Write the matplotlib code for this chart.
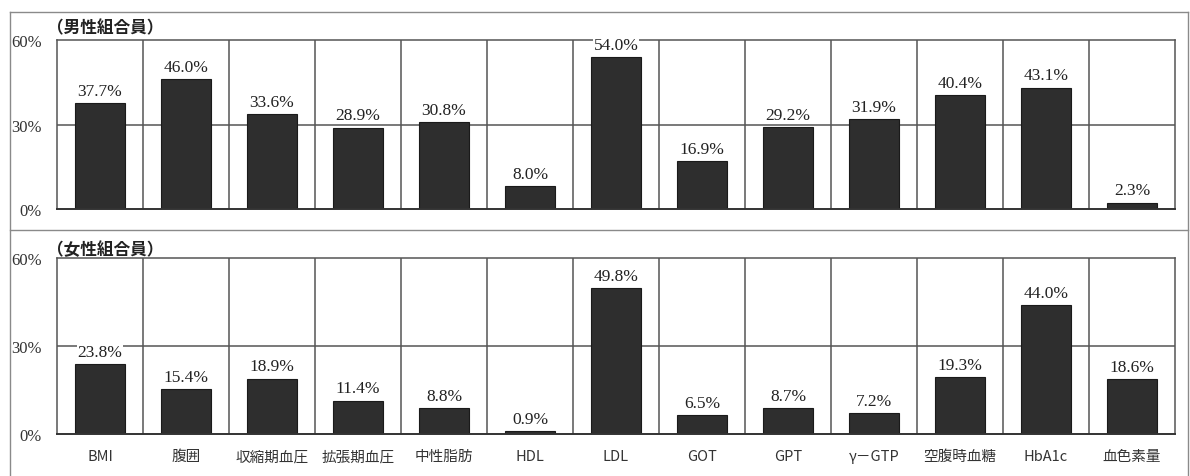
import matplotlib
matplotlib.use("Agg")
import matplotlib.pyplot as plt
from matplotlib.lines import Line2D

categories = ["BMI", "腹囲", "収縮期血圧", "拡張期血圧", "中性脂肪", "HDL", "LDL",
              "GOT", "GPT", "γ－GTP", "空腹時血糖", "HbA1c", "血色素量"]
male = [37.7, 46.0, 33.6, 28.9, 30.8, 8.0, 54.0, 16.9, 29.2, 31.9, 40.4, 43.1, 2.3]
female = [23.8, 15.4, 18.9, 11.4, 8.8, 0.9, 49.8, 6.5, 8.7, 7.2, 19.3, 44.0, 18.6]
panel_titles = ["（男性組合員）", "（女性組合員）"]
yticks = [0, 30, 60]

W, H = 1190, 477
fig = plt.figure(figsize=(W / 100, H / 100), dpi=100)
fig.patch.set_facecolor("white")

num_font = ["Liberation Serif", "DejaVu Serif"]
cjk_font = ["Noto Sans CJK JP", "DejaVu Sans"]


def fy(py):
    return 1 - py / H


def fx(px):
    return px / W


# outer frame and divider
frame_kw = dict(color="#8a8a8a", lw=1.0, transform=fig.transFigure)
fig.add_artist(Line2D([fx(10), fx(1188)], [fy(13), fy(13)], **frame_kw))
fig.add_artist(Line2D([fx(10), fx(10)], [fy(13), fy(477)], **frame_kw))
fig.add_artist(Line2D([fx(1188), fx(1188)], [fy(13), fy(477)], **frame_kw))
fig.add_artist(Line2D([fx(10), fx(1188)], [fy(231), fy(231)], **frame_kw))

panels = [
    (male, panel_titles[0], 41, 210, 28, False),
    (female, panel_titles[1], 259, 435, 250, True),
]

n = len(categories)
x = list(range(n))
grid_color = "#555555"

for values, title, top_px, bot_px, title_py, show_labels in panels:
    ax = fig.add_axes([fx(57), fy(bot_px), fx(1175) - fx(57), fy(top_px) - fy(bot_px)])
    ax.set_xlim(-0.5, n - 0.5)
    ax.set_ylim(0, 60)
    ax.bar(x, values, width=0.58, color="#2e2e2e", edgecolor="#1a1a1a",
           linewidth=0.8, zorder=3)
    # category separators and horizontal grid
    for b in range(1, n):
        ax.axvline(b - 0.5, color=grid_color, lw=1.1, zorder=1)
    ax.axhline(30, color=grid_color, lw=1.1, zorder=1)
    for side in ["top", "left", "right"]:
        ax.spines[side].set_color(grid_color)
        ax.spines[side].set_linewidth(1.1)
    ax.spines["bottom"].set_color("#333333")
    ax.spines["bottom"].set_linewidth(1.4)
    ax.spines["bottom"].set_zorder(4)

    for xi, v in zip(x, values):
        ax.annotate(f"{v:.1f}%", (xi, v), xytext=(0, 3), textcoords="offset points",
                    ha="center", va="bottom", fontsize=12.5, family=num_font,
                    color="#222222", zorder=5,
                    bbox=dict(boxstyle="square,pad=0.05", fc="white", ec="none"))

    ax.set_yticks(yticks)
    ax.set_yticklabels([f"{t}%" for t in yticks], family=num_font, fontsize=12,
                       color="#333333")
    ax.tick_params(axis="y", length=0, pad=11)
    if show_labels:
        ax.set_xticks(x)
        ax.set_xticklabels(categories, family=cjk_font, fontsize=10.5, color="#333333")
        ax.tick_params(axis="x", length=0, pad=11)
    else:
        ax.set_xticks([])

    fig.text(fx(47), fy(title_py), title, family=cjk_font, fontsize=12,
             fontweight="bold", color="#222222", ha="left", va="center")

fig.savefig("out.png", dpi=100, facecolor="white")
